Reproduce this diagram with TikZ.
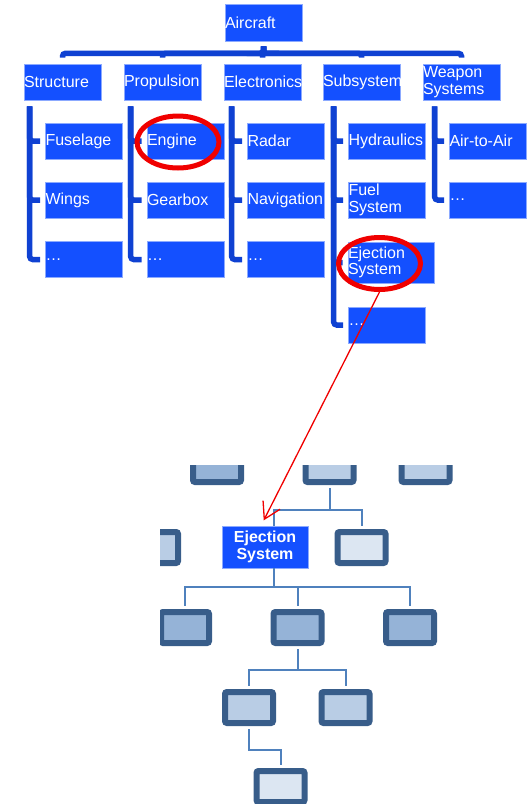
\documentclass[tikz,border=0pt]{standalone}
\usepackage{fontspec}
\setmainfont{Liberation Sans}
\usetikzlibrary{arrows.meta,shapes.geometric}
\definecolor{chartblue}{RGB}{20,80,255}
\definecolor{chartedge}{RGB}{140,170,255}
\definecolor{chartline}{RGB}{15,65,210}
\definecolor{framedark}{RGB}{56,93,138}
\definecolor{linkblue}{RGB}{79,129,189}
\definecolor{tintA}{RGB}{149,179,215}
\definecolor{tintB}{RGB}{185,205,229}
\definecolor{tintC}{RGB}{220,230,242}
\definecolor{ringred}{RGB}{240,0,0}

\begin{document}
\begin{tikzpicture}[x=1pt,y=-1pt]
\tikzstyle{every node}+=[inner sep=0pt]
\tikzstyle{unit}=[fill=chartblue, draw=chartedge, line width=0.6pt, text=white, font=\fontsize{16}{16.5}\selectfont, minimum height=36pt, text width=77pt, align=left]
\tikzstyle{wideunit}=[unit, minimum height=41pt, text width=86pt]
\tikzstyle{trunk}=[chartline, line width=5.5pt, rounded corners=3pt]
\tikzstyle{ring}=[ellipse, draw=ringred, line width=5pt, minimum width=82pt, minimum height=52pt]
\tikzstyle{frame}=[draw=framedark, line width=6pt, rounded corners=2pt, minimum width=48pt, minimum height=31pt]
\tikzstyle{link}=[linkblue, line width=2pt]
\useasboundingbox (0,0) rectangle (529,804);
\node[unit, minimum height=37pt] (aircraft) at (263.5,22.5) {Aircraft};
\node[unit] (structure) at (62.5,82) {Structure};
\node[unit] (propulsion) at (162.5,82) {Propulsion};
\node[unit] (electronics) at (262.5,82) {Electronics};
\node[unit] (subsystem) at (361.5,82) {Subsystem};
\node[unit] (weapons) at (461.5,82) {Weapon\\Systems};
\node[unit] (fuselage) at (84,141) {Fuselage};
\node[unit] (wings) at (84,200) {Wings};
\node[unit] (structmore) at (84,259.5) {…};
\node[unit] (engine) at (185.5,141) {Engine};
\node[unit] (gearbox) at (185.5,200) {Gearbox};
\node[unit] (propmore) at (185.5,259.5) {…};
\node[unit] (radar) at (286,141) {Radar};
\node[unit] (navigation) at (286,200) {Navigation};
\node[unit] (elecmore) at (286,259.5) {…};
\node[unit] (hydraulics) at (387,141) {Hydraulics};
\node[unit] (fuel) at (387,200) {Fuel\\System};
\node[wideunit] (ejection) at (391,262.5) {Ejection\\System};
\node[unit] (submore) at (387,325) {…};
\node[unit] (airtoair) at (488,141) {Air-to-Air};
\node[unit] (weapmore) at (488,200) {…};
\foreach \n in {structure,propulsion,electronics,subsystem,weapons}
  \draw[trunk, shorten <=5pt, shorten >=6pt] (aircraft.south) -- ++(0,12) -| (\n.north);
\foreach \c in {fuselage,wings,structmore}
  \draw[trunk, shorten <=6pt, shorten >=5pt] ([xshift=6pt]structure.south west) |- (\c.west);
\foreach \c in {engine,gearbox,propmore}
  \draw[trunk, shorten <=6pt, shorten >=5pt] ([xshift=7pt]propulsion.south west) |- (\c.west);
\foreach \c in {radar,navigation,elecmore}
  \draw[trunk, shorten <=6pt, shorten >=5pt] ([xshift=8pt]electronics.south west) |- (\c.west);
\foreach \c in {hydraulics,fuel,ejection,submore}
  \draw[trunk, shorten <=6pt, shorten >=5pt] ([xshift=11pt]subsystem.south west) |- (\c.west);
\foreach \c in {airtoair,weapmore}
  \draw[trunk, shorten <=6pt, shorten >=5pt] ([xshift=12pt]weapons.south west) |- (\c.west);
\begin{scope}
\clip (160,465) rectangle (529,804);
\node[frame, fill=tintA] (upleft) at (217,466.5) {};
\node[frame, fill=tintB] (upmid) at (329.5,466.5) {};
\node[frame, fill=tintB] (upright) at (425.5,466.5) {};
\node[frame, fill=tintB] (sibleft) at (154,547.5) {};
\node[fill=chartblue, draw=chartedge, line width=0.6pt, minimum width=86pt, minimum height=42pt, text=white, font=\bfseries\fontsize{16}{16.5}\selectfont, align=center] (focus) at (265,547) {Ejection\\System};
\node[frame, fill=tintC] (sibright) at (361.5,547.5) {};
\node[frame, fill=tintA] (partA) at (185,627.5) {};
\node[frame, fill=tintA] (partB) at (297.5,627.5) {};
\node[frame, fill=tintA] (partC) at (410,627.5) {};
\node[frame, fill=tintB] (subA) at (249,707.5) {};
\node[frame, fill=tintB] (subB) at (345.5,707.5) {};
\node[frame, fill=tintC] (leaf) at (280.5,786.5) {};
\draw[link, shorten <=3pt] (upmid.south) -- ++(0,25) -| ([xshift=9pt]focus.north);
\draw[link, shorten <=3pt, shorten >=3pt] (upmid.south) -- ++(0,25) -| (sibright.north);
\foreach \p in {partA,partB,partC}
  \draw[link, shorten >=3pt] ([xshift=9pt]focus.south) -- ++(0,19) -| (\p.north);
\foreach \p in {subA,subB}
  \draw[link, shorten <=3pt, shorten >=3pt] (partB.south) -- ++(0,24) -| (\p.north);
\draw[link, shorten <=3pt, shorten >=3pt] (subA.south) -- ++(0,24) -| (leaf.north);
\end{scope}
\node[ring] (enginering) at (178,142) {};
\node[ring] (ejectring) at (379.5,263.5) {};
\draw[ringred, line width=1.3pt, shorten >=6pt, -{Straight Barb[length=16pt,width=19pt]}] (ejectring.south) -- ([xshift=-4pt]focus.north);
\end{tikzpicture}
\end{document}
